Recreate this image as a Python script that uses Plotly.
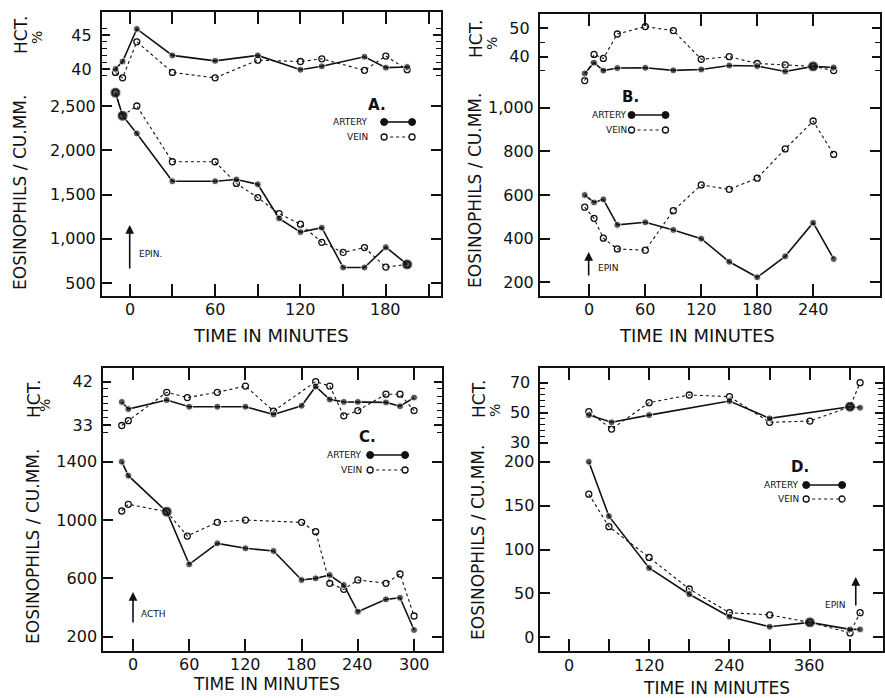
import plotly.graph_objects as go

# ---------------- DATA ----------------
# Panel A (EPIN.)
A_hct_t = [-10, -5, 5, 30, 60, 90, 120, 135, 165, 180, 195]
A_hct_artery = [40.0, 41.1, 45.9, 42.0, 41.2, 42.0, 39.9, 40.4, 41.8, 40.2, 40.3]
A_hct_vein = [39.5, 38.7, 44.0, 39.5, 38.7, 41.3, 41.1, 41.5, 39.8, 41.9, 39.9]
A_eos_t = [-10, -5, 5, 30, 60, 75, 90, 105, 120, 135, 150, 165, 180, 195]
A_eos_artery = [2650, 2390, 2190, 1650, 1650, 1670, 1615, 1230, 1075, 1125, 675, 675, 905, 710]
A_eos_vein = [2650, 2390, 2500, 1870, 1870, 1625, 1465, 1285, 1165, 960, 845, 900, 680, 710]

# Panel B (EPIN)
B_t = [-5, 5, 15, 30, 60, 90, 120, 150, 180, 210, 240, 262]
B_hct_artery = [34.1, 37.9, 35.1, 36.0, 36.1, 35.2, 35.5, 36.9, 36.7, 34.8, 36.6, 36.2]
B_hct_vein = [31.6, 40.8, 39.4, 48.0, 50.6, 49.2, 39.1, 40.0, 37.6, 37.1, 36.6, 35.1]
B_eos_artery = [600, 566, 580, 463, 475, 440, 400, 294, 223, 319, 473, 307]
B_eos_vein = [544, 493, 402, 353, 347, 528, 646, 626, 677, 811, 939, 786]

# Panel C (ACTH)
C_art_t = [-12, -5, 36, 60, 90, 120, 150, 180, 195, 210, 225, 240, 270, 285, 300]
C_hct_artery = [37.8, 36.3, 38.2, 36.8, 36.8, 36.8, 35.2, 37.0, 41.0, 38.3, 37.8, 37.8, 37.7, 36.9, 38.7]
C_eos_artery = [1400, 1304, 1057, 696, 840, 806, 788, 589, 600, 623, 554, 371, 456, 467, 246]
C_hct_vein_t = [-12, -5, 36, 58, 90, 120, 150, 195, 210, 225, 240, 270, 285, 300]
C_hct_vein = [32.9, 33.9, 39.8, 38.7, 39.8, 41.1, 35.9, 42.0, 41.1, 34.9, 36.0, 39.4, 39.4, 36.0]
C_eos_vein_t = [-12, -5, 36, 58, 90, 120, 180, 195, 210, 225, 240, 270, 285, 300]
C_eos_vein = [1062, 1108, 1057, 890, 984, 1000, 984, 920, 566, 525, 589, 566, 630, 342]

# Panel D (EPIN)
D_hct_art_t = [30, 64, 120, 240, 300, 420, 435]
D_hct_artery = [48.4, 43.6, 48.4, 57.8, 46.2, 54.0, 53.3]
D_hct_vein_t = [30, 64, 120, 180, 240, 300, 360, 420, 435]
D_hct_vein = [50.7, 39.1, 56.7, 61.8, 60.7, 43.6, 44.4, 54.0, 70.0]
D_eos_t = [30, 60, 120, 180, 240, 300, 360, 420, 435]
D_eos_artery = [200, 138, 79, 49, 23.5, 12, 17, 9, 9]
D_eos_vein = [163, 126, 91, 55, 28, 25.5, 17, 5, 28]

# tick labels
A_xticks = [0, 60, 120, 180]
B_xticks = [0, 60, 120, 180, 240]
C_xticks = [0, 60, 120, 180, 240, 300]
D_xticks = [0, 120, 240, 360]
A_hct_ticks = [40, 45]
B_hct_ticks = [40, 50]
C_hct_ticks = [33, 42]
D_hct_ticks = [30, 50, 70]
A_eos_ticks = [500, 1000, 1500, 2000, 2500]
B_eos_ticks = [200, 400, 600, 800, 1000]
C_eos_ticks = [200, 600, 1000, 1400]
D_eos_ticks = [0, 50, 100, 150, 200]

# ---------------- STYLE / LAYOUT ----------------
W, H = 885, 698
FONT = "DejaVu Sans"
INK = "#111111"


def X(px):
    return px / W


def Y(py):
    return 1 - py / H


def lin_range(v1, p1, v2, p2, pa, pb):
    """value at pixel pa and pb given two calibration pixels"""
    k = (v2 - v1) / (p2 - p1)
    return [v1 + (pa - p1) * k, v1 + (pb - p1) * k]


panels = {
    "A": dict(xpx=(102, 442), ypx=(12, 296), x0=(0, 130), x1=(180, 386.7), xlab=309,
              hct=((45, 35), (40, 69)), eos=((2500, 106), (500, 283))),
    "B": dict(xpx=(541, 882), ypx=(14, 296), x0=(0, 590.7), x1=(240, 815), xlab=309,
              hct=((50, 28.3), (40, 56.7)), eos=((1000, 107.7), (200, 282.3))),
    "C": dict(xpx=(103.3, 442.7), ypx=(368.3, 651), x0=(0, 133.3), x1=(300, 415), xlab=664,
              hct=((42, 381.7), (33, 425)), eos=((1400, 461.7), (200, 636.7))),
    "D": dict(xpx=(541.7, 885), ypx=(368.3, 651), x0=(0, 570), x1=(360, 811.7), xlab=665,
              hct=((70, 382.7), (30, 442.7)), eos=((200, 461.7), (0, 637.3))),
}

fmt = lambda v: f"{v:,}"

tickspec = {
    "A": dict(xt=A_xticks, xminor=30, hct=A_hct_ticks, hctminor=[39, 41, 42, 43, 44, 46],
              eos=A_eos_ticks, eoslab=[fmt(v) for v in A_eos_ticks]),
    "B": dict(xt=B_xticks, xminor=None, hct=B_hct_ticks, hctminor=[35, 45],
              eos=B_eos_ticks, eoslab=[fmt(v) for v in B_eos_ticks]),
    "C": dict(xt=C_xticks, xminor=None, hct=C_hct_ticks, hctminor=[31.5, 34.5, 36, 37.5, 39, 40.5],
              eos=C_eos_ticks, eoslab=[str(v) for v in C_eos_ticks]),
    "D": dict(xt=D_xticks, xminor=60, hct=D_hct_ticks,
              hctminor=[34, 38, 42, 46, 54, 58, 62, 66],
              eos=D_eos_ticks, eoslab=[str(v) for v in D_eos_ticks]),
}

fig = go.Figure()
layout = {}
annotations = []
shapes = []
order = ["A", "B", "C", "D"]
for i, key in enumerate(order):
    p = panels[key]
    ts = tickspec[key]
    xn = "" if i == 0 else str(i + 1)
    yh = str(2 * i + 1) if i > 0 else ""
    ye = str(2 * i + 2)
    xdom = [X(p["xpx"][0]), X(p["xpx"][1])]
    ydom = [Y(p["ypx"][1]), Y(p["ypx"][0])]
    xr = lin_range(p["x0"][0], p["x0"][1], p["x1"][0], p["x1"][1], p["xpx"][0], p["xpx"][1])
    (h1, hp1), (h2, hp2) = p["hct"]
    hr = lin_range(h1, hp1, h2, hp2, p["ypx"][1], p["ypx"][0])
    (e1, ep1), (e2, ep2) = p["eos"]
    er = lin_range(e1, ep1, e2, ep2, p["ypx"][1], p["ypx"][0])

    xax = dict(domain=xdom, range=xr, anchor="y" + yh, showgrid=False, zeroline=False,
               showline=True, mirror="ticks", linecolor=INK, linewidth=2,
               ticks="inside", ticklen=12, tickwidth=1.6, tickcolor=INK,
               tickvals=ts["xt"], showticklabels=False)
    if ts["xminor"]:
        xax["minor"] = dict(dtick=ts["xminor"], tick0=0, ticks="inside", ticklen=12,
                            tickwidth=1.6, tickcolor=INK, showgrid=False)
    layout["xaxis" + xn] = xax
    # x tick labels placed on the panel's own x scale
    for v in ts["xt"]:
        annotations.append(dict(x=v, xref="x" + xn, y=Y(p["xlab"]), yref="paper", text=str(v),
                                showarrow=False, xanchor="center", yanchor="middle",
                                font=dict(family=FONT, size=16, color=INK)))
    layout["yaxis" + yh] = dict(domain=ydom, range=hr, anchor="x" + xn, showgrid=False, zeroline=False,
                                showline=True, mirror="ticks",
                                linecolor=INK, linewidth=2,
                                ticks="inside", ticklen=8, tickwidth=1.6, tickcolor=INK,
                                tickvals=ts["hct"], ticktext=[str(v) for v in ts["hct"]],
                                tickfont=dict(family=FONT, size=16, color=INK), ticklabelstandoff=5,
                                minor=dict(tickvals=ts["hctminor"], ticks="inside", ticklen=5,
                                           tickwidth=1.4, tickcolor=INK, showgrid=False))
    layout["yaxis" + ye] = dict(range=er, anchor="x" + xn, overlaying="y" + yh, side="left",
                                showgrid=False, zeroline=False, showline=False, mirror="ticks",
                                ticks="inside", ticklen=10, tickwidth=1.6, tickcolor=INK,
                                tickvals=ts["eos"], ticktext=ts["eoslab"],
                                tickfont=dict(family=FONT, size=16, color=INK), ticklabelstandoff=5)

# series definitions: (panel, kind, vein t, vein values, artery t, artery values, big-marker indices)
series = [
    ("A", "hct", A_hct_t, A_hct_vein, A_hct_t, A_hct_artery, []),
    ("A", "eos", A_eos_t, A_eos_vein, A_eos_t, A_eos_artery, [0, 1, 13]),
    ("B", "hct", B_t, B_hct_vein, B_t, B_hct_artery, [10]),
    ("B", "eos", B_t, B_eos_vein, B_t, B_eos_artery, []),
    ("C", "hct", C_hct_vein_t, C_hct_vein, C_art_t, C_hct_artery, []),
    ("C", "eos", C_eos_vein_t, C_eos_vein, C_art_t, C_eos_artery, [2]),
    ("D", "hct", D_hct_vein_t, D_hct_vein, D_hct_art_t, D_hct_artery, [5]),
    ("D", "eos", D_eos_t, D_eos_vein, D_eos_t, D_eos_artery, [6]),
]
for key, kind, vt, vv, at, av, big in series:
    i = order.index(key)
    xn = "x" if i == 0 else "x" + str(i + 1)
    yn = ("y" if i == 0 else "y" + str(2 * i + 1)) if kind == "hct" else "y" + str(2 * i + 2)
    fig.add_trace(go.Scatter(x=vt, y=vv, xaxis=xn, yaxis=yn, mode="lines+markers",
                             line=dict(color=INK, width=1.1, dash="3px,3px"),
                             marker=dict(symbol="circle-open", size=6, color=INK, line=dict(width=1.3)),
                             showlegend=False, hoverinfo="skip"))
    sizes = [11 if j in big else 7 for j in range(len(at))]
    fig.add_trace(go.Scatter(x=at, y=av, xaxis=xn, yaxis=yn, mode="lines+markers",
                             line=dict(color=INK, width=1.6),
                             marker=dict(symbol="circle", size=sizes, color=INK),
                             showlegend=False, hoverinfo="skip"))


def text(px, py, s, size=16, xanchor="center", angle=0, bold=False):
    annotations.append(dict(x=X(px), y=Y(py), xref="paper", yref="paper", text=s,
                            showarrow=False, xanchor=xanchor, yanchor="middle", textangle=angle,
                            font=dict(family=FONT, size=size, color=INK,
                                      weight="bold" if bold else "normal")))


def arrow(px, head, tail):
    annotations.append(dict(x=X(px), y=Y(head), xref="paper", yref="paper", text="",
                            showarrow=True, ax=0, ay=tail - head, arrowhead=2, arrowsize=1.1,
                            arrowwidth=1.6, arrowcolor=INK))


def legend(lx, rx, ya, yv, tx):
    text(tx, ya, "ARTERY", size=9, xanchor="right")
    text(tx, yv, "VEIN", size=9, xanchor="right")
    shapes.append(dict(type="line", xref="paper", yref="paper", x0=X(lx), x1=X(rx), y0=Y(ya), y1=Y(ya),
                       line=dict(color=INK, width=1.6)))
    shapes.append(dict(type="line", xref="paper", yref="paper", x0=X(lx), x1=X(rx), y0=Y(yv), y1=Y(yv),
                       line=dict(color=INK, width=1.1, dash="3px,3px")))
    for cx in (lx, rx):
        shapes.append(dict(type="circle", xref="paper", yref="paper", xsizemode="pixel", ysizemode="pixel",
                           xanchor=X(cx), yanchor=Y(ya), x0=-3.5, x1=3.5, y0=-3.5, y1=3.5,
                           fillcolor=INK, line=dict(color=INK, width=1)))
        shapes.append(dict(type="circle", xref="paper", yref="paper", xsizemode="pixel", ysizemode="pixel",
                           xanchor=X(cx), yanchor=Y(yv), x0=-3, x1=3, y0=-3, y1=3,
                           fillcolor="white", line=dict(color=INK, width=1.3)))


# x titles
text(272, 336, "TIME IN MINUTES", size=18)
text(699, 336, "TIME IN MINUTES", size=18)
text(267, 684, "TIME IN MINUTES", size=17)
text(718, 688, "TIME IN MINUTES", size=17)

# y titles
for (ex, ey, hx, hy, px_, py_) in [(20, 192, 21, 35, 37, 37), (476, 190, 477, 39, 493, 43),
                                   (33, 546, 34, 399, 45, 405), (479, 542, 480, 399, 496, 410)]:
    text(ex, ey, "EOSINOPHILS / CU.MM.", size=17, angle=-90)
    text(hx, hy, "HCT.", size=17, angle=-90)
    text(px_, py_, "%", size=14, angle=-90)

# panel letters
text(378, 105, "A.", size=15, bold=True)
text(632, 97, "B.", size=15, bold=True)
text(368, 437, "C.", size=15, bold=True)
text(802, 467, "D.", size=15, bold=True)

# legends
legend(385, 413, 122, 137, 371)
legend(633, 667, 115, 130, 630)
legend(371, 406, 455, 470, 365)
legend(808, 844, 485, 499, 803)

# injection arrows
arrow(130, 225, 270)
text(137, 254, "EPIN.", size=9, xanchor="left")
arrow(590, 252, 277)
text(597, 268, "EPIN", size=9, xanchor="left")
arrow(133.3, 592, 624)
text(139, 614, "ACTH", size=9, xanchor="left")
arrow(857.7, 577, 607)
text(850, 605, "EPIN", size=9, xanchor="right")

fig.update_layout(width=W, height=H, margin=dict(l=0, r=0, t=0, b=0),
                  paper_bgcolor="white", plot_bgcolor="white",
                  annotations=annotations, shapes=shapes, showlegend=False, **layout)

fig.write_html("out.html", config={"displayModeBar": False},
               post_script="document.body.style.margin='0px';")
